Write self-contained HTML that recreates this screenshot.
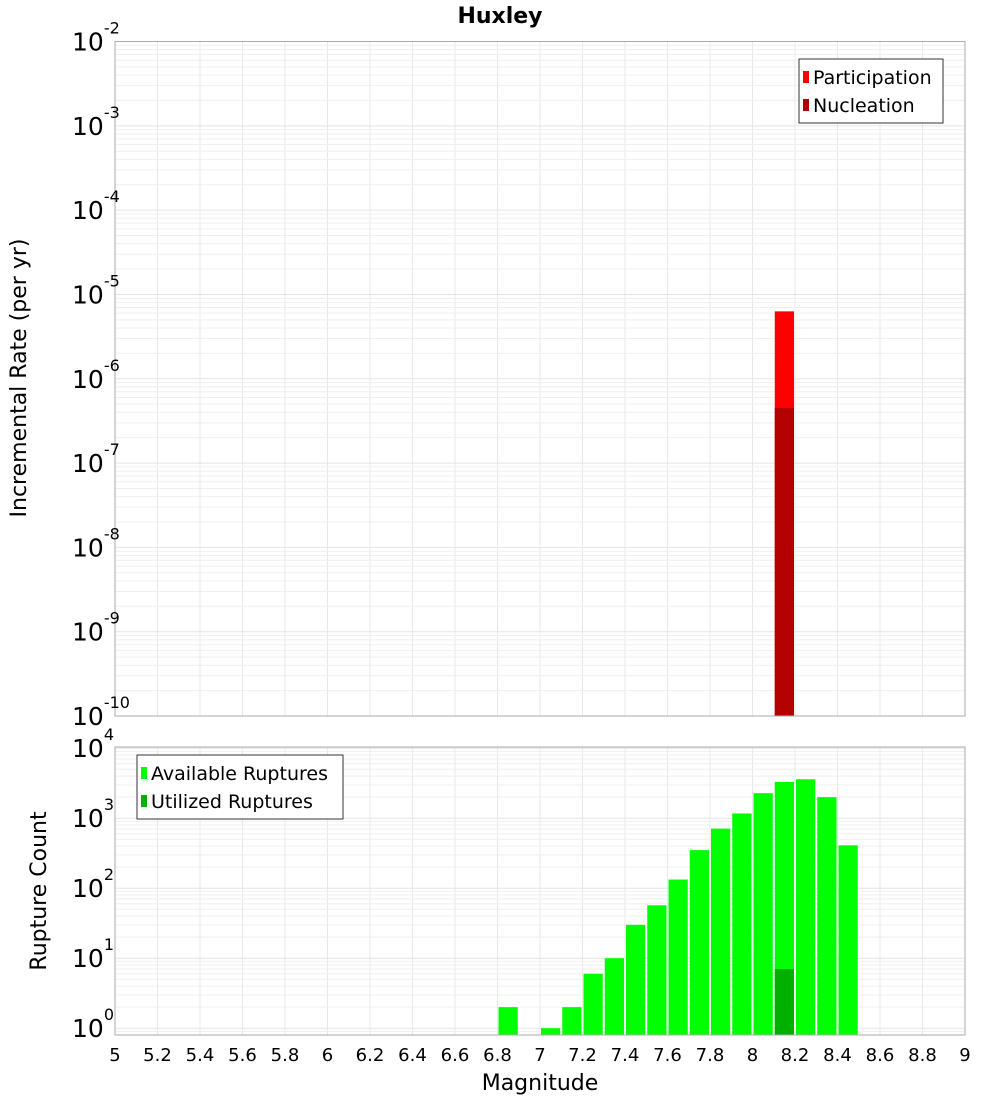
<!DOCTYPE html>
<html><head><meta charset="utf-8"><style>
html,body{margin:0;padding:0;background:#fff}
svg{display:block;font-family:"DejaVu Sans","Liberation Sans",sans-serif}
</style></head><body>
<svg id="c" width="1000" height="1100" xmlns="http://www.w3.org/2000/svg">
<text x="500" y="23" text-anchor="middle" font-size="22" font-weight="bold">Huxley</text>
<g id="top"></g>
<g id="bot"></g>
<text transform="translate(26,378) rotate(-90)" text-anchor="middle" font-size="22">Incremental Rate (per yr)</text>
<text transform="translate(46,891) rotate(-90)" text-anchor="middle" font-size="22">Rupture Count</text>
<text x="540" y="1090" text-anchor="middle" font-size="22">Magnitude</text>
</svg>
<script>
const xTicks=[5,5.2,5.4,5.6,5.8,6,6.2,6.4,6.6,6.8,7,7.2,7.4,7.6,7.8,8,8.2,8.4,8.6,8.8,9];
const rateMags=[8.1];
const participation=[6.3e-6];
const nucleation=[4.5e-7];
const countMags=[6.8,7.0,7.1,7.2,7.3,7.4,7.5,7.6,7.7,7.8,7.9,8.0,8.1,8.2,8.3,8.4];
const available=[2,1,2,6,10,30,57,133,350,710,1170,2280,3300,3600,2000,410];
const utilizedMags=[8.1];
const utilized=[7];
const topExps=[-2,-3,-4,-5,-6,-7,-8,-9,-10];
const botExps=[0,1,2,3,4];

const NS="http://www.w3.org/2000/svg";
const L=115,R=965;
const xs=m=>L+(m-5)/4*(R-L);
function mk(p,tag,a){const e=document.createElementNS(NS,tag);for(const k in a)e.setAttribute(k,a[k]);p.appendChild(e);return e;}
const T={top:41.5,bot:716,lo:-10,hi:-2};
const B={top:747,bot:1035,lo:Math.log10(0.8),hi:Math.log10(0.8)+(1035-747)/70};
function ys(P,v){return P.bot-(Math.log10(v)-P.lo)/(P.hi-P.lo)*(P.bot-P.top);}
function frame(g,P){
  mk(g,'rect',{x:L,y:P.top,width:R-L,height:P.bot-P.top,fill:'#fff'});
  for(let m=5.2;m<9;m+=0.2){const l=mk(g,'line',{x1:xs(m),x2:xs(m),y1:P.top,y2:P.bot,stroke:'#e8e8e8'});
  }
  for(let d=Math.floor(P.lo);d<P.hi;d++)for(let k=1;k<10;k++){const v=k*Math.pow(10,d);const lv=Math.log10(v);if(lv<P.lo||lv>P.hi)continue;
    const y=ys(P,v);const l=mk(g,'line',{x1:L,x2:R,y1:y,y2:y,stroke:k==1?'#e4e4e4':'#efefef'});
    }
}
function border(g,P){const r=mk(g,'rect',{x:L,y:P.top,width:R-L,height:P.bot-P.top,fill:'none',stroke:'#aaa'});
}
function ylab(g,P,e){const y=ys(P,Math.pow(10,e));const t=mk(g,'text',{x:72,y:y+9,'font-size':25});

t.textContent='10';const s=document.createElementNS(NS,'tspan');s.setAttribute('dy','-17');s.setAttribute('font-size','16');s.textContent=String(e);t.appendChild(s);}
function bar(g,P,m,v,col,name){const x=xs(m),w=xs(m+0.1)-x,y=ys(P,v);
const r=mk(g,'rect',{x:x+1,y:y,width:w-2,height:P.bot-y,fill:col});
}
function legend(g,x,y,w,items){const r=mk(g,'rect',{x:x,y:y,width:w,height:items.length*28+8,fill:'#fff',stroke:'#333'});

items.forEach((it,i)=>{const cy=y+18+i*28;const s=mk(g,'rect',{x:x+4,y:cy-6,width:6,height:12,fill:it[1]});

const t=mk(g,'text',{x:x+14,y:cy+7,'font-size':19});t.textContent=it[0];
});}

const gt=document.getElementById('top');frame(gt,T);
rateMags.forEach((m,i)=>bar(gt,T,m,participation[i],'#ff0000','participation-bar'));
rateMags.forEach((m,i)=>bar(gt,T,m,nucleation[i],'#b30000','nucleation-bar'));
border(gt,T);topExps.forEach(e=>ylab(gt,T,e));
legend(gt,799,59,144,[['Participation','#ff0000'],['Nucleation','#b30000']]);

const gb=document.getElementById('bot');frame(gb,B);
countMags.forEach((m,i)=>bar(gb,B,m,available[i],'#00ff00','available-bar'));
utilizedMags.forEach((m,i)=>bar(gb,B,m,utilized[i],'#00b000','utilized-bar'));
border(gb,B);botExps.forEach(e=>ylab(gb,B,e));
legend(gb,137,755,206,[['Available Ruptures','#00ff00'],['Utilized Ruptures','#00b000']]);
xTicks.forEach(m=>{const t=mk(gb,'text',{x:xs(m),y:1061,'text-anchor':'middle','font-size':18});t.textContent=String(m);
});
</script>
</body></html>
